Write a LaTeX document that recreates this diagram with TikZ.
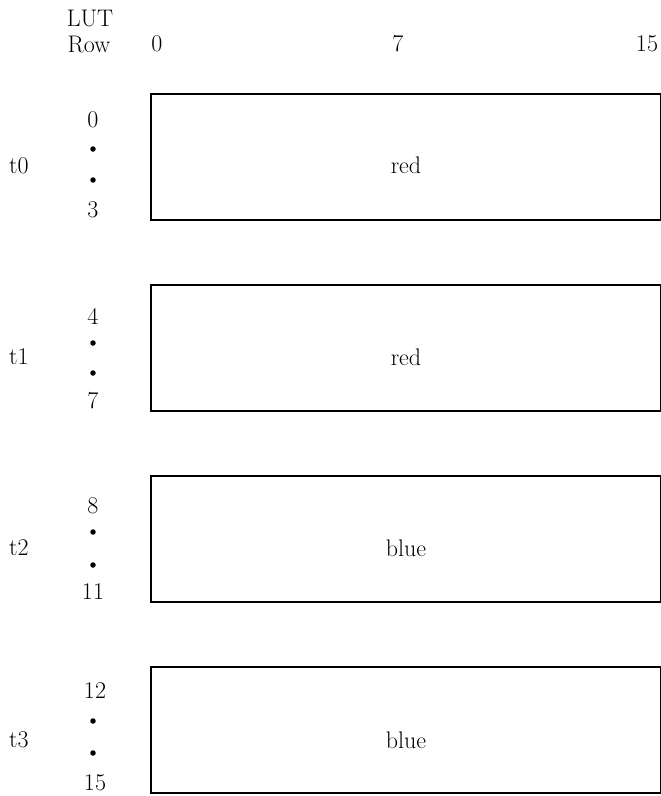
\documentclass[tikz,border=0pt]{standalone}
\begin{document}
\begin{tikzpicture}[x=1pt,y=-1pt,
  lbl/.style={inner sep=0pt,font=\fontsize{24}{28}\selectfont},
  lutbox/.style={draw,line width=2pt,minimum width=510pt,minimum height=126pt,inner sep=0pt,anchor=north west},
  rowdot/.style={circle,fill,inner sep=0pt,minimum size=5.5pt}]
\useasboundingbox (0,0) rectangle (661,796);
% header
\node[lbl] (lut) at (90,18) {LUT};
\node[lbl] (row) at (89,44) {Row};
\node[lbl] (c0) at (157,44) {0};
\node[lbl] (c7) at (398,44) {7};
\node[lbl] (c15) at (647,44) {15};
% boxes
\node[lutbox] (b0) at (150,93) {};
\node[lutbox] (b1) at (150,284) {};
\node[lutbox] (b2) at (150,475) {};
\node[lutbox] (b3) at (150,666) {};
\node[lbl] (v0) at (406,165) {red};
\node[lbl] (v1) at (406,357) {red};
\node[lbl] (v2) at (406,548) {blue};
\node[lbl] (v3) at (406,740) {blue};
% thread labels
\node[lbl] (t0) at (19,166) {t0};
\node[lbl] (t1) at (19,357) {t1};
\node[lbl] (t2) at (19,548) {t2};
\node[lbl] (t3) at (19,740) {t3};
% row numbers
\node[lbl] (r0) at (93,120) {0};
\node[rowdot] (d0a) at (93,149) {};
\node[rowdot] (d0b) at (93,180) {};
\node[lbl] (r3) at (93,210) {3};
\node[lbl] (r4) at (93,316) {4};
\node[rowdot] (d1a) at (93,343) {};
\node[rowdot] (d1b) at (93,373) {};
\node[lbl] (r7) at (93,401) {7};
\node[lbl] (r8) at (93,506) {8};
\node[rowdot] (d2a) at (93,532) {};
\node[rowdot] (d2b) at (93,565) {};
\node[lbl] (r11) at (93,592) {11};
\node[lbl] (r12) at (95,691) {12};
\node[rowdot] (d3a) at (93,721) {};
\node[rowdot] (d3b) at (93,753) {};
\node[lbl] (r15) at (95,783) {15};
\end{tikzpicture}
\end{document}
